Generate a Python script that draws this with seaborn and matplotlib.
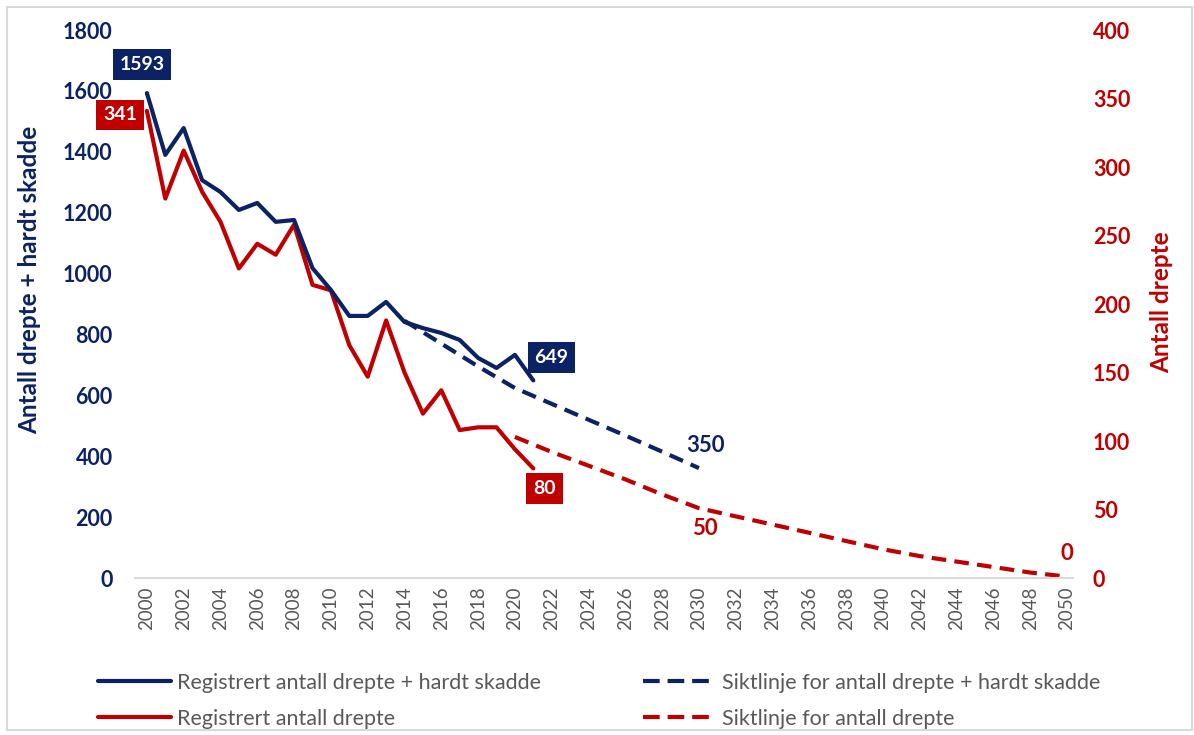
import matplotlib
matplotlib.use("Agg")
import matplotlib.pyplot as plt
import seaborn as sns
import pandas as pd
from matplotlib.lines import Line2D
from matplotlib.patches import Rectangle

# Registrerte tall 2000-2021
years = list(range(2000, 2022))
drepte_skadde = [1593, 1390, 1478, 1307, 1268, 1209, 1232, 1170, 1176, 1018, 946,
                 861, 861, 907, 841, 821, 805, 782, 723, 690, 733, 649]
drepte = [341, 277, 312, 282, 260, 226, 244, 236, 258, 214, 210,
          170, 147, 188, 150, 120, 137, 108, 110, 110, 94, 80]

# Siktlinjer
sikt_ds_years = [2014, 2016, 2018, 2020, 2022, 2024, 2026, 2028, 2030]
sikt_ds = [845, 770, 695, 624, 572, 520, 468, 415, 361]
sikt_d_years = [2020, 2022, 2024, 2026, 2028, 2030, 2032, 2034, 2036, 2038,
                2040, 2042, 2044, 2046, 2048, 2050]
sikt_d = [103, 92, 82, 72, 61, 51, 45, 39, 33, 27, 21, 16, 12, 8, 4, 1]

legend_labels = ["Registrert antall drepte + hardt skadde",
                 "Registrert antall drepte",
                 "Siktlinje for antall drepte + hardt skadde",
                 "Siktlinje for antall drepte"]

NAVY = "#0B2265"
RED = "#C00000"
GRAY = "#595959"

sns.set_theme(style="white")
plt.rcParams["font.family"] = ["Lato", "DejaVu Sans"]

fig = plt.figure(figsize=(11.94, 7.35), dpi=100)
ax = fig.add_axes([0.113, 0.2136, 0.786, 0.7455])
ax2 = ax.twinx()

df_ds = pd.DataFrame({"year": years, "value": drepte_skadde})
df_d = pd.DataFrame({"year": years, "value": drepte})
df_sds = pd.DataFrame({"year": sikt_ds_years, "value": sikt_ds})
df_sd = pd.DataFrame({"year": sikt_d_years, "value": sikt_d})

LW = 3.0
DASH = (3.5, 2.0)
sns.lineplot(data=df_sds, x="year", y="value", ax=ax, color=NAVY, lw=LW)
ax.lines[-1].set_dashes(DASH)
sns.lineplot(data=df_ds, x="year", y="value", ax=ax, color=NAVY, lw=LW)
sns.lineplot(data=df_sd, x="year", y="value", ax=ax2, color=RED, lw=LW)
ax2.lines[-1].set_dashes(DASH)
sns.lineplot(data=df_d, x="year", y="value", ax=ax2, color=RED, lw=LW)
ax.set_zorder(ax2.get_zorder() + 1)
ax.patch.set_visible(False)

ax.set_xlim(1999.35, 2050.35)
ax.set_ylim(0, 1800)
ax2.set_ylim(0, 400)
ax.set_yticks(range(0, 1801, 200))
ax2.set_yticks(range(0, 401, 50))
ax.set_xticks(range(2000, 2051, 2))
ax.set_xticklabels([str(y) for y in range(2000, 2051, 2)], rotation=90,
                   color=GRAY, fontsize=13.5)

for a in (ax, ax2):
    for s in a.spines.values():
        s.set_visible(False)
    a.grid(False)
    a.tick_params(length=0)
ax.spines["bottom"].set_visible(True)
ax.spines["bottom"].set_color("#D9D9D9")
ax.spines["bottom"].set_linewidth(1.5)

ax.tick_params(axis="y", pad=16, labelcolor=NAVY, labelsize=15.5)
ax2.tick_params(axis="y", pad=14, labelcolor=RED, labelsize=15.5)
ax.tick_params(axis="x", pad=6)
for t in ax.get_yticklabels():
    t.set_fontweight("bold")
for t in ax2.get_yticklabels():
    t.set_fontweight("bold")

ax.set_xlabel("")
ax.set_ylabel("Antall drepte + hardt skadde", color=NAVY, fontsize=17.5,
              fontweight="bold")
ax.yaxis.set_label_coords(-0.1, 0.544)
ax2.set_ylabel("Antall drepte", color=RED, fontsize=17.5, fontweight="bold")
ax2.yaxis.set_label_coords(1.082, 0.504)

# Etiketter
box_kw = dict(fontsize=14, fontweight="bold", color="white", ha="center",
              va="center", textcoords="offset points")
ax.annotate(str(drepte_skadde[0]), (years[0], drepte_skadde[0]), xytext=(-3.6, 20.5),
            bbox=dict(boxstyle="square,pad=0.35", fc=NAVY, ec="none"), **box_kw)
ax.annotate(str(drepte_skadde[-1]), (years[-1], drepte_skadde[-1]), xytext=(13, 16.5),
            bbox=dict(boxstyle="square,pad=0.35", fc=NAVY, ec="none"), **box_kw)
ax2.annotate(str(drepte[0]), (years[0], drepte[0]), xytext=(-19.4, -2.9),
             bbox=dict(boxstyle="square,pad=0.35", fc=RED, ec="none"), **box_kw)
ax2.annotate(str(drepte[-1]), (years[-1], drepte[-1]), xytext=(8, -14.4),
             bbox=dict(boxstyle="square,pad=0.35", fc=RED, ec="none"), **box_kw)
txt_kw = dict(fontsize=16, fontweight="bold", ha="center", va="center",
              textcoords="offset points")
ax.annotate("350", (2030, 350), xytext=(5, 19), color=NAVY, **txt_kw)
ax2.annotate("50", (2030, 50), xytext=(4, -14), color=RED, **txt_kw)
ax2.annotate("0", (2050, 0), xytext=(0, 18), color=RED, **txt_kw)

handles = [
    Line2D([], [], color=NAVY, lw=LW),
    Line2D([], [], color=RED, lw=LW),
    Line2D([], [], color=NAVY, lw=LW, dashes=(4.0, 1.9)),
    Line2D([], [], color=RED, lw=LW, dashes=(4.0, 1.9)),
]
fig.legend(handles, legend_labels, ncol=2, loc="lower left",
           bbox_to_anchor=(0.066, -0.018), frameon=False, fontsize=15.5,
           labelcolor=GRAY, handlelength=3.4, handletextpad=0.28,
           columnspacing=4.7, labelspacing=0.74)

# lys ramme rundt figuren
fig.patches.append(Rectangle((7 / 1194, 5 / 735), 1185 / 1194, 723 / 735,
                             transform=fig.transFigure, fill=False,
                             ec="#D9D9D9", lw=1.5))

fig.savefig("out.png", dpi=100, facecolor="white")
